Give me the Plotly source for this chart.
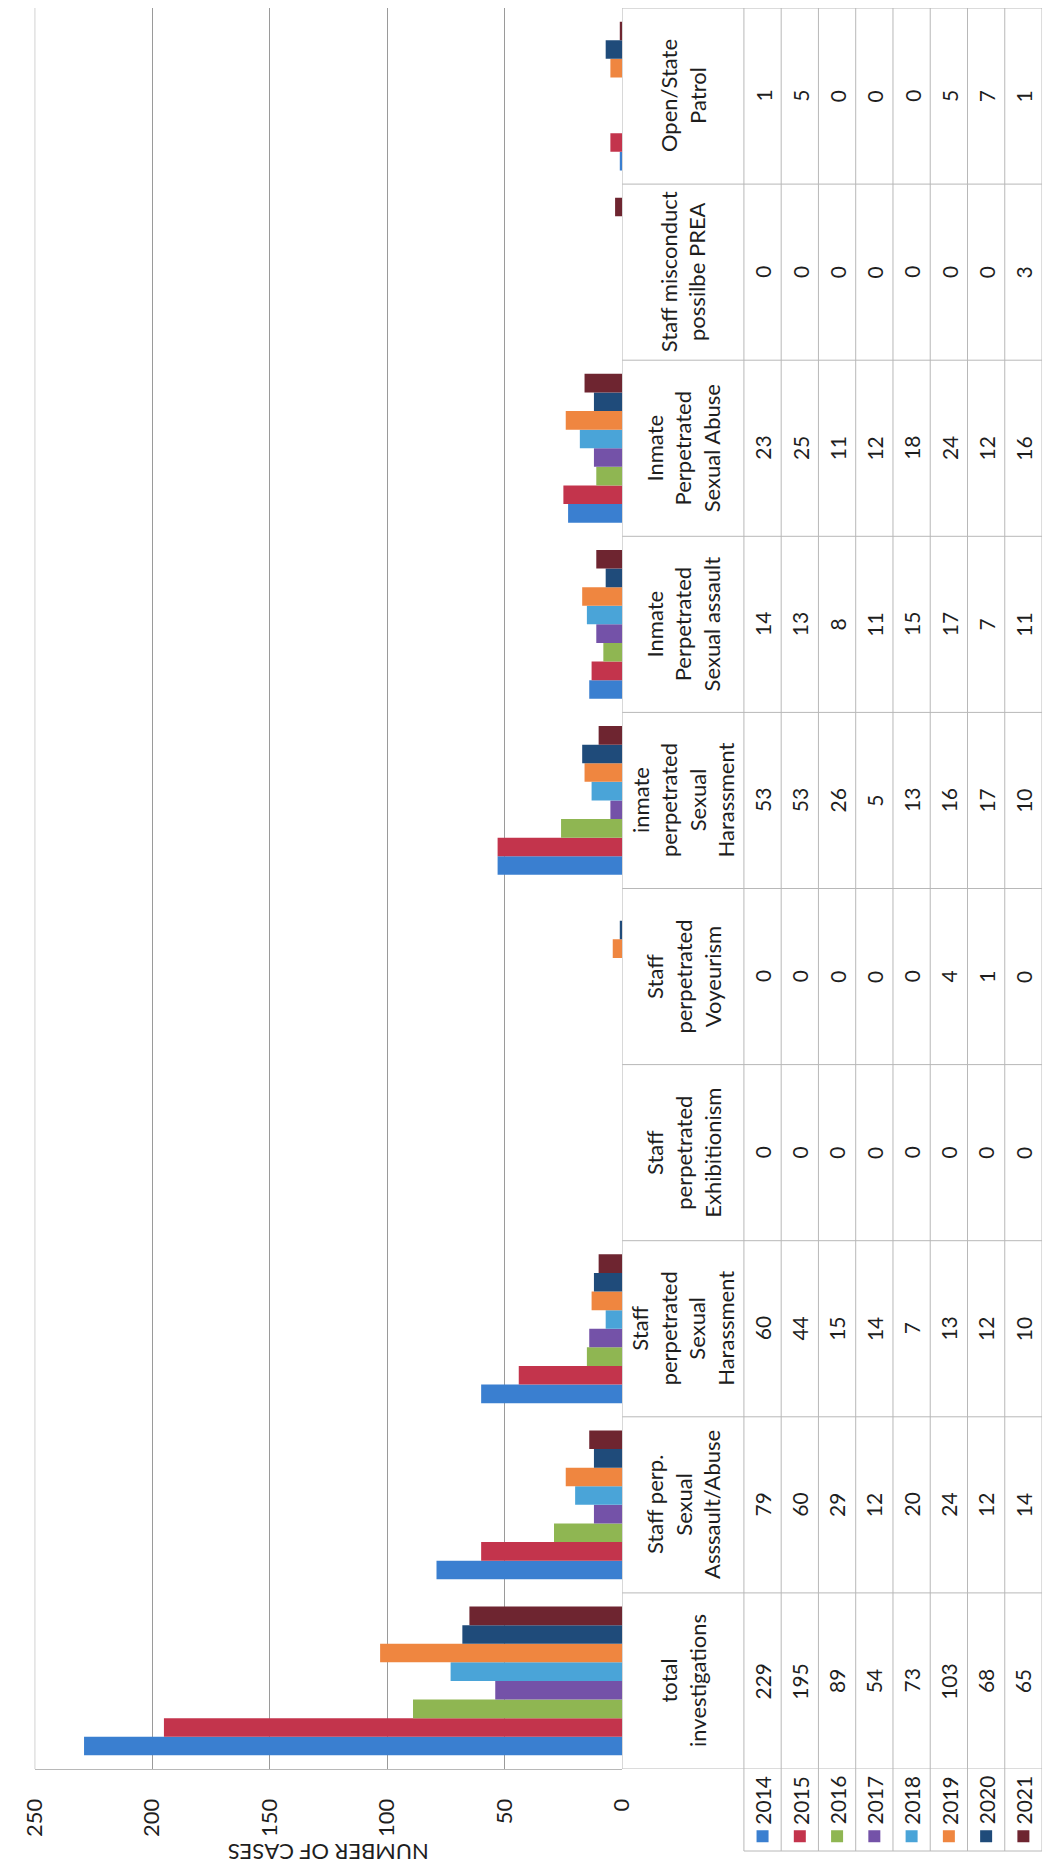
import plotly.graph_objects as go

# ---------------- data ----------------
categories = [
    "total investigations",
    "Staff perp. Sexual Asssault/Abuse",
    "Staff perpetrated Sexual Harassment",
    "Staff perpetrated Exhibitionism",
    "Staff perpetrated Voyeurism",
    "inmate perpetrated Sexual Harassment",
    "Inmate Perpetrated Sexual assault",
    "Inmate Perpetrated Sexual Abuse",
    "Staff misconduct possilbe PREA",
    "Open/State Patrol",
]
category_labels = [
    "total<br>investigations",
    "Staff perp.<br>Sexual<br>Asssault/Abuse",
    "Staff<br>perpetrated<br>Sexual<br>Harassment",
    "Staff<br>perpetrated<br>Exhibitionism",
    "Staff<br>perpetrated<br>Voyeurism",
    "inmate<br>perpetrated<br>Sexual<br>Harassment",
    "Inmate<br>Perpetrated<br>Sexual assault",
    "Inmate<br>Perpetrated<br>Sexual Abuse",
    "Staff misconduct<br>possilbe PREA",
    "Open/State<br>Patrol",
]
years = ["2014", "2015", "2016", "2017", "2018", "2019", "2020", "2021"]
v2014 = [229, 79, 60, 0, 0, 53, 14, 23, 0, 1]
v2015 = [195, 60, 44, 0, 0, 53, 13, 25, 0, 5]
v2016 = [89, 29, 15, 0, 0, 26, 8, 11, 0, 0]
v2017 = [54, 12, 14, 0, 0, 5, 11, 12, 0, 0]
v2018 = [73, 20, 7, 0, 0, 13, 15, 18, 0, 0]
v2019 = [103, 24, 13, 0, 4, 16, 17, 24, 0, 5]
v2020 = [68, 12, 12, 0, 1, 17, 7, 12, 0, 7]
v2021 = [65, 14, 10, 0, 0, 10, 11, 16, 3, 1]
series = [v2014, v2015, v2016, v2017, v2018, v2019, v2020, v2021]
x_ticks = [0, 50, 100, 150, 200, 250]
axis_title = "NUMBER OF CASES"

# ---------------- styling ----------------
colors = ["#3a7fd0", "#c3344c", "#8fb652", "#7452a8",
          "#4aa4d8", "#ef8640", "#1f4b7a", "#6e2530"]
OFF = 8                       # default page body margin
FIG_W, FIG_H = 1047, 1861
FONT = "Lato"
TXT = "#1e1e1e"
GRID = "#9a9a9a"
TLINE = "#b8b8b8"


def xp(px):
    return (px - OFF) / FIG_W


def py(px):
    return 1 - (px - OFF) / FIG_H


PLOT_L, ZERO_X, TABLE_R = 20, 623, 1054
TOP, BOT, LEG_BOT = 8, 1769, 1851
HDR_PX = 125
COL_PX = (TABLE_R - ZERO_X - HDR_PX) / len(years)
HDR = HDR_PX / COL_PX

fig = go.Figure()
for yr, vals, c in zip(years, series, colors):
    fig.add_trace(go.Bar(
        x=vals, y=categories, orientation="h", name=yr,
        marker=dict(color=c, line=dict(width=0)),
        showlegend=False, xaxis="x", yaxis="y",
    ))

# legend squares in the table's bottom row
fig.add_trace(go.Scatter(
    x=[i + 0.5 for i in range(len(years))], y=[0.18] * len(years),
    mode="markers", marker=dict(symbol="square", size=12, color=colors),
    xaxis="x2", yaxis="y3", showlegend=False, hoverinfo="skip",
))

annotations = []
shapes = []

# header column
for cat, lab in zip(categories, category_labels):
    annotations.append(dict(
        x=-HDR / 2, xref="x2", y=cat, yref="y", text=lab, textangle=-90,
        showarrow=False, xanchor="center", yanchor="middle", align="center",
        font=dict(family=FONT, size=22, color=TXT),
    ))
# value cells
for j, vals in enumerate(series):
    for cat, v in zip(categories, vals):
        annotations.append(dict(
            x=j + 0.5, xref="x2", y=cat, yref="y", text=str(v), textangle=-90,
            showarrow=False, xanchor="center", yanchor="middle",
            font=dict(family=FONT, size=21, color=TXT),
        ))
# legend year labels
for j, yr in enumerate(years):
    annotations.append(dict(
        x=j + 0.5, xref="x2", y=0.62, yref="y3", text=yr, textangle=-90,
        showarrow=False, xanchor="center", yanchor="middle",
        font=dict(family=FONT, size=21, color=TXT),
    ))
# axis title (upside down)
annotations.append(dict(
    x=125, xref="x", y=py(1853), yref="paper", text=axis_title, textangle=180,
    showarrow=False, xanchor="center", yanchor="middle",
    font=dict(family=FONT, size=22, color=TXT),
))

# left border gridline at 250
shapes.append(dict(type="line", xref="x", yref="y domain", x0=250, x1=250,
                   y0=0, y1=1, line=dict(color=GRID, width=1)))

# table grid
for k in range(len(categories) + 1):
    shapes.append(dict(type="line", xref="x2", yref="y", x0=-HDR, x1=len(years),
                       y0=k - 0.5, y1=k - 0.5, line=dict(color=TLINE, width=1)))
shapes.append(dict(type="line", xref="x2", yref="y", x0=-HDR, x1=-HDR,
                   y0=-0.5, y1=len(categories) - 0.5, line=dict(color=TLINE, width=1)))
for i in range(len(years) + 1):
    shapes.append(dict(type="line", xref="x2", yref="paper", x0=i, x1=i,
                       y0=py(LEG_BOT), y1=py(TOP), line=dict(color=TLINE, width=1)))
shapes.append(dict(type="line", xref="x2", yref="paper", x0=0, x1=len(years),
                   y0=py(LEG_BOT), y1=py(LEG_BOT), line=dict(color=TLINE, width=1)))

fig.update_layout(
    width=FIG_W, height=FIG_H,
    margin=dict(l=0, r=0, t=0, b=0),
    paper_bgcolor="white", plot_bgcolor="white",
    barmode="group", bargap=0.155, bargroupgap=0,
    font=dict(family=FONT, color=TXT),
    xaxis=dict(
        domain=[xp(PLOT_L), xp(ZERO_X)], range=[250, 0],
        tickvals=x_ticks, ticktext=[str(t) for t in x_ticks], tickangle=-90,
        tickfont=dict(family=FONT, size=22, color=TXT),
        showgrid=True, gridcolor=GRID, gridwidth=1,
        zeroline=False, showline=True, linecolor=TLINE, linewidth=1,
        ticks="", ticklabelstandoff=20, ticklabeloverflow="allow",
        fixedrange=True,
    ),
    yaxis=dict(
        domain=[py(BOT), py(TOP)], type="category", categoryorder="array",
        categoryarray=categories, range=[-0.5, len(categories) - 0.5],
        showticklabels=False, showgrid=False, zeroline=False, showline=False,
        ticks="", fixedrange=True,
    ),
    xaxis2=dict(
        domain=[xp(ZERO_X), xp(TABLE_R)], range=[-HDR, len(years)],
        anchor="y", visible=False, fixedrange=True,
    ),
    yaxis3=dict(
        domain=[py(LEG_BOT), py(BOT)], range=[0, 1], anchor="x2",
        visible=False, fixedrange=True,
    ),
    annotations=annotations,
    shapes=shapes,
)

fig.write_html("out.html")
